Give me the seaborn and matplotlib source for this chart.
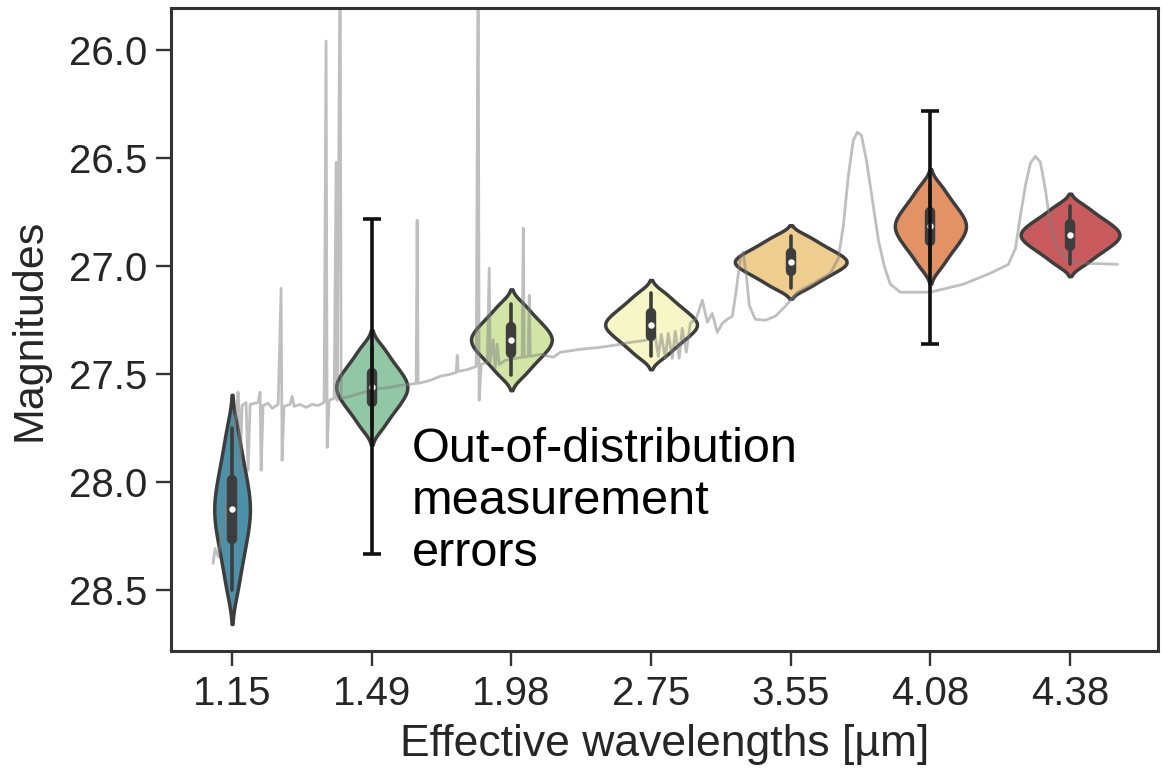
import numpy as np
import pandas as pd
import matplotlib
matplotlib.use("Agg")
import matplotlib.pyplot as plt
import seaborn as sns

# ---------------- data ----------------
bands = ["1.15", "1.49", "1.98", "2.75", "3.55", "4.08", "4.38"]

mag_115 = [27.750, 27.842, 27.905, 27.956, 28.000, 28.040, 28.076, 28.109,
           28.141, 28.175, 28.211, 28.250, 28.295, 28.346, 28.409, 28.500]
mag_149 = [27.373, 27.418, 27.450, 27.475, 27.498, 27.517, 27.535, 27.552,
           27.568, 27.585, 27.603, 27.623, 27.645, 27.670, 27.702, 27.748]
mag_198 = [27.175, 27.215, 27.243, 27.265, 27.285, 27.302, 27.318, 27.333,
           27.347, 27.362, 27.378, 27.395, 27.415, 27.437, 27.465, 27.505]
mag_275 = [27.124, 27.159, 27.184, 27.204, 27.221, 27.237, 27.251, 27.264,
           27.276, 27.289, 27.303, 27.319, 27.336, 27.356, 27.381, 27.416]
mag_355 = [26.860, 26.889, 26.909, 26.926, 26.940, 26.953, 26.964, 26.975,
           26.985, 26.996, 27.007, 27.020, 27.034, 27.051, 27.071, 27.100]
mag_408 = [26.628, 26.673, 26.705, 26.730, 26.753, 26.772, 26.790, 26.807,
           26.823, 26.840, 26.858, 26.878, 26.900, 26.925, 26.957, 27.003]
mag_438 = [26.720, 26.753, 26.776, 26.794, 26.810, 26.824, 26.837, 26.849,
           26.861, 26.873, 26.886, 26.900, 26.916, 26.934, 26.957, 26.990]

# template spectrum, x in band-index units, y in magnitudes
spec_pos = [-0.136, -0.122, -0.100, -0.057, -0.014, 0.021, 0.043, 0.050, 0.057, 0.072,
            0.100, 0.115, 0.129, 0.186, 0.201, 0.208, 0.222, 0.258, 0.287, 0.330,
            0.351, 0.358, 0.372, 0.415, 0.430, 0.444, 0.487, 0.530, 0.573, 0.616,
            0.659, 0.673, 0.681, 0.695, 0.731, 0.745, 0.752, 0.774, 0.781, 0.845,
            0.917, 0.989, 1.060, 1.132, 1.203, 1.275, 1.318, 1.325, 1.332, 1.418,
            1.490, 1.562, 1.605, 1.612, 1.619, 1.691, 1.748, 1.762, 1.769, 1.784,
            1.827, 1.841, 1.848, 1.870, 1.884, 1.898, 1.913, 1.956, 2.028, 2.077,
            2.085, 2.092, 2.120, 2.128, 2.135, 2.206, 2.299, 2.350, 2.493, 2.636,
            2.779, 2.851, 2.958, 3.030, 3.052, 3.073, 3.102, 3.123, 3.152, 3.173,
            3.202, 3.223, 3.252, 3.281, 3.324, 3.367, 3.403, 3.438, 3.474, 3.510,
            3.546, 3.582, 3.610, 3.639, 3.660, 3.682, 3.703, 3.746, 3.818, 3.890,
            3.961, 4.047, 4.162, 4.284, 4.341, 4.377, 4.413, 4.448, 4.477, 4.506,
            4.542, 4.585, 4.628, 4.670, 4.713, 4.785, 5.000, 5.236, 5.430, 5.559,
            5.609, 5.645, 5.681, 5.716, 5.752, 5.788, 5.824, 5.860, 5.903, 5.953,
            6.017, 6.110, 6.340]
spec_mag = [28.375, 28.306, 28.343, 28.176, 27.944, 27.736, 27.583, 27.667, 27.958, 27.644,
            27.630, 27.944, 27.639, 27.630, 27.583, 27.944, 27.644, 27.634, 27.657, 27.639,
            27.102, 27.898, 27.648, 27.639, 27.602, 27.648, 27.639, 27.653, 27.639, 27.644,
            27.630, 25.958, 27.838, 27.620, 27.611, 26.519, 27.620, 25.500, 27.611, 27.602,
            27.588, 27.574, 27.565, 27.560, 27.551, 27.546, 27.542, 26.787, 27.542, 27.528,
            27.509, 27.500, 27.491, 27.412, 27.486, 27.477, 27.463, 25.500, 27.620, 27.454,
            27.444, 27.009, 27.444, 27.340, 27.470, 27.360, 27.455, 27.435, 27.426, 27.421,
            26.824, 27.421, 27.417, 27.134, 27.417, 27.407, 27.421, 27.398, 27.384, 27.375,
            27.361, 27.352, 27.343, 27.324, 27.417, 27.315, 27.426, 27.310, 27.426, 27.301,
            27.426, 27.287, 27.398, 27.264, 27.241, 27.157, 27.259, 27.218, 27.306, 27.264,
            27.245, 27.231, 27.111, 26.963, 26.935, 27.042, 27.181, 27.245, 27.250, 27.231,
            27.185, 27.120, 27.079, 27.032, 26.963, 26.810, 26.579, 26.417, 26.380, 26.394,
            26.509, 26.694, 26.880, 27.000, 27.083, 27.120, 27.120, 27.083, 27.032, 26.991,
            26.917, 26.764, 26.625, 26.523, 26.491, 26.519, 26.648, 26.810, 26.907, 26.954,
            26.977, 26.986, 26.991]

err_bands = ["1.49", "4.08"]
err_center = [27.555, 26.82]
err_half = [0.775, 0.54]

yticks = [26.0, 26.5, 27.0, 27.5, 28.0, 28.5]
annotation = "Out-of-distribution\nmeasurement\nerrors"

# ---------------- figure ----------------
sns.set_style("ticks")
plt.rcParams["font.family"] = ["Liberation Sans", "DejaVu Sans"]

samples = [mag_115, mag_149, mag_198, mag_275, mag_355, mag_408, mag_438]
df = pd.DataFrame({
    "band": [b for b, s in zip(bands, samples) for _ in s],
    "mag": [v for s in samples for v in s],
})

fig = plt.figure(figsize=(11.62, 7.74), dpi=100)
ax = fig.add_axes([0.1472, 0.1589, 0.8494, 0.8308])

sns.violinplot(data=df, x="band", y="mag", hue="band", order=bands, hue_order=bands,
               palette="Spectral_r", legend=False, linewidth=2.5, linecolor="#3d3d3d",
               inner="box", inner_kws=dict(box_width=7.5, whis_width=2.6, marker="."),
               density_norm="area", common_norm=True, cut=2, bw_adjust=0.65,
               width=0.8, ax=ax)

ax.plot(spec_pos, spec_mag, color="gray", alpha=0.5, lw=2.0, zorder=1.5)

err_x = [bands.index(b) for b in err_bands]
ax.errorbar(err_x, err_center, yerr=err_half, fmt="none", ecolor="#111111",
            elinewidth=2.6, capsize=6.5, capthick=2.6, zorder=5)

ax.text(1.285, 28.09, annotation, fontsize=35, ha="left", va="center",
        linespacing=1.2, color="black", zorder=6)

ax.set_xlim(-0.437, 6.63)
ax.set_ylim(28.78, 25.805)
ax.set_yticks(yticks)
ax.set_yticklabels([f"{t:.1f}" for t in yticks])
ax.set_xlabel("Effective wavelengths [µm]", fontsize=32, labelpad=8)
ax.set_ylabel("Magnitudes", fontsize=31, labelpad=14)
ax.tick_params(axis="both", labelsize=29, length=11, width=1.7, color="#333333",
               pad=6)
for sp in ax.spines.values():
    sp.set_linewidth(2.2)
    sp.set_color("#333333")

fig.savefig("out.png", dpi=100)
